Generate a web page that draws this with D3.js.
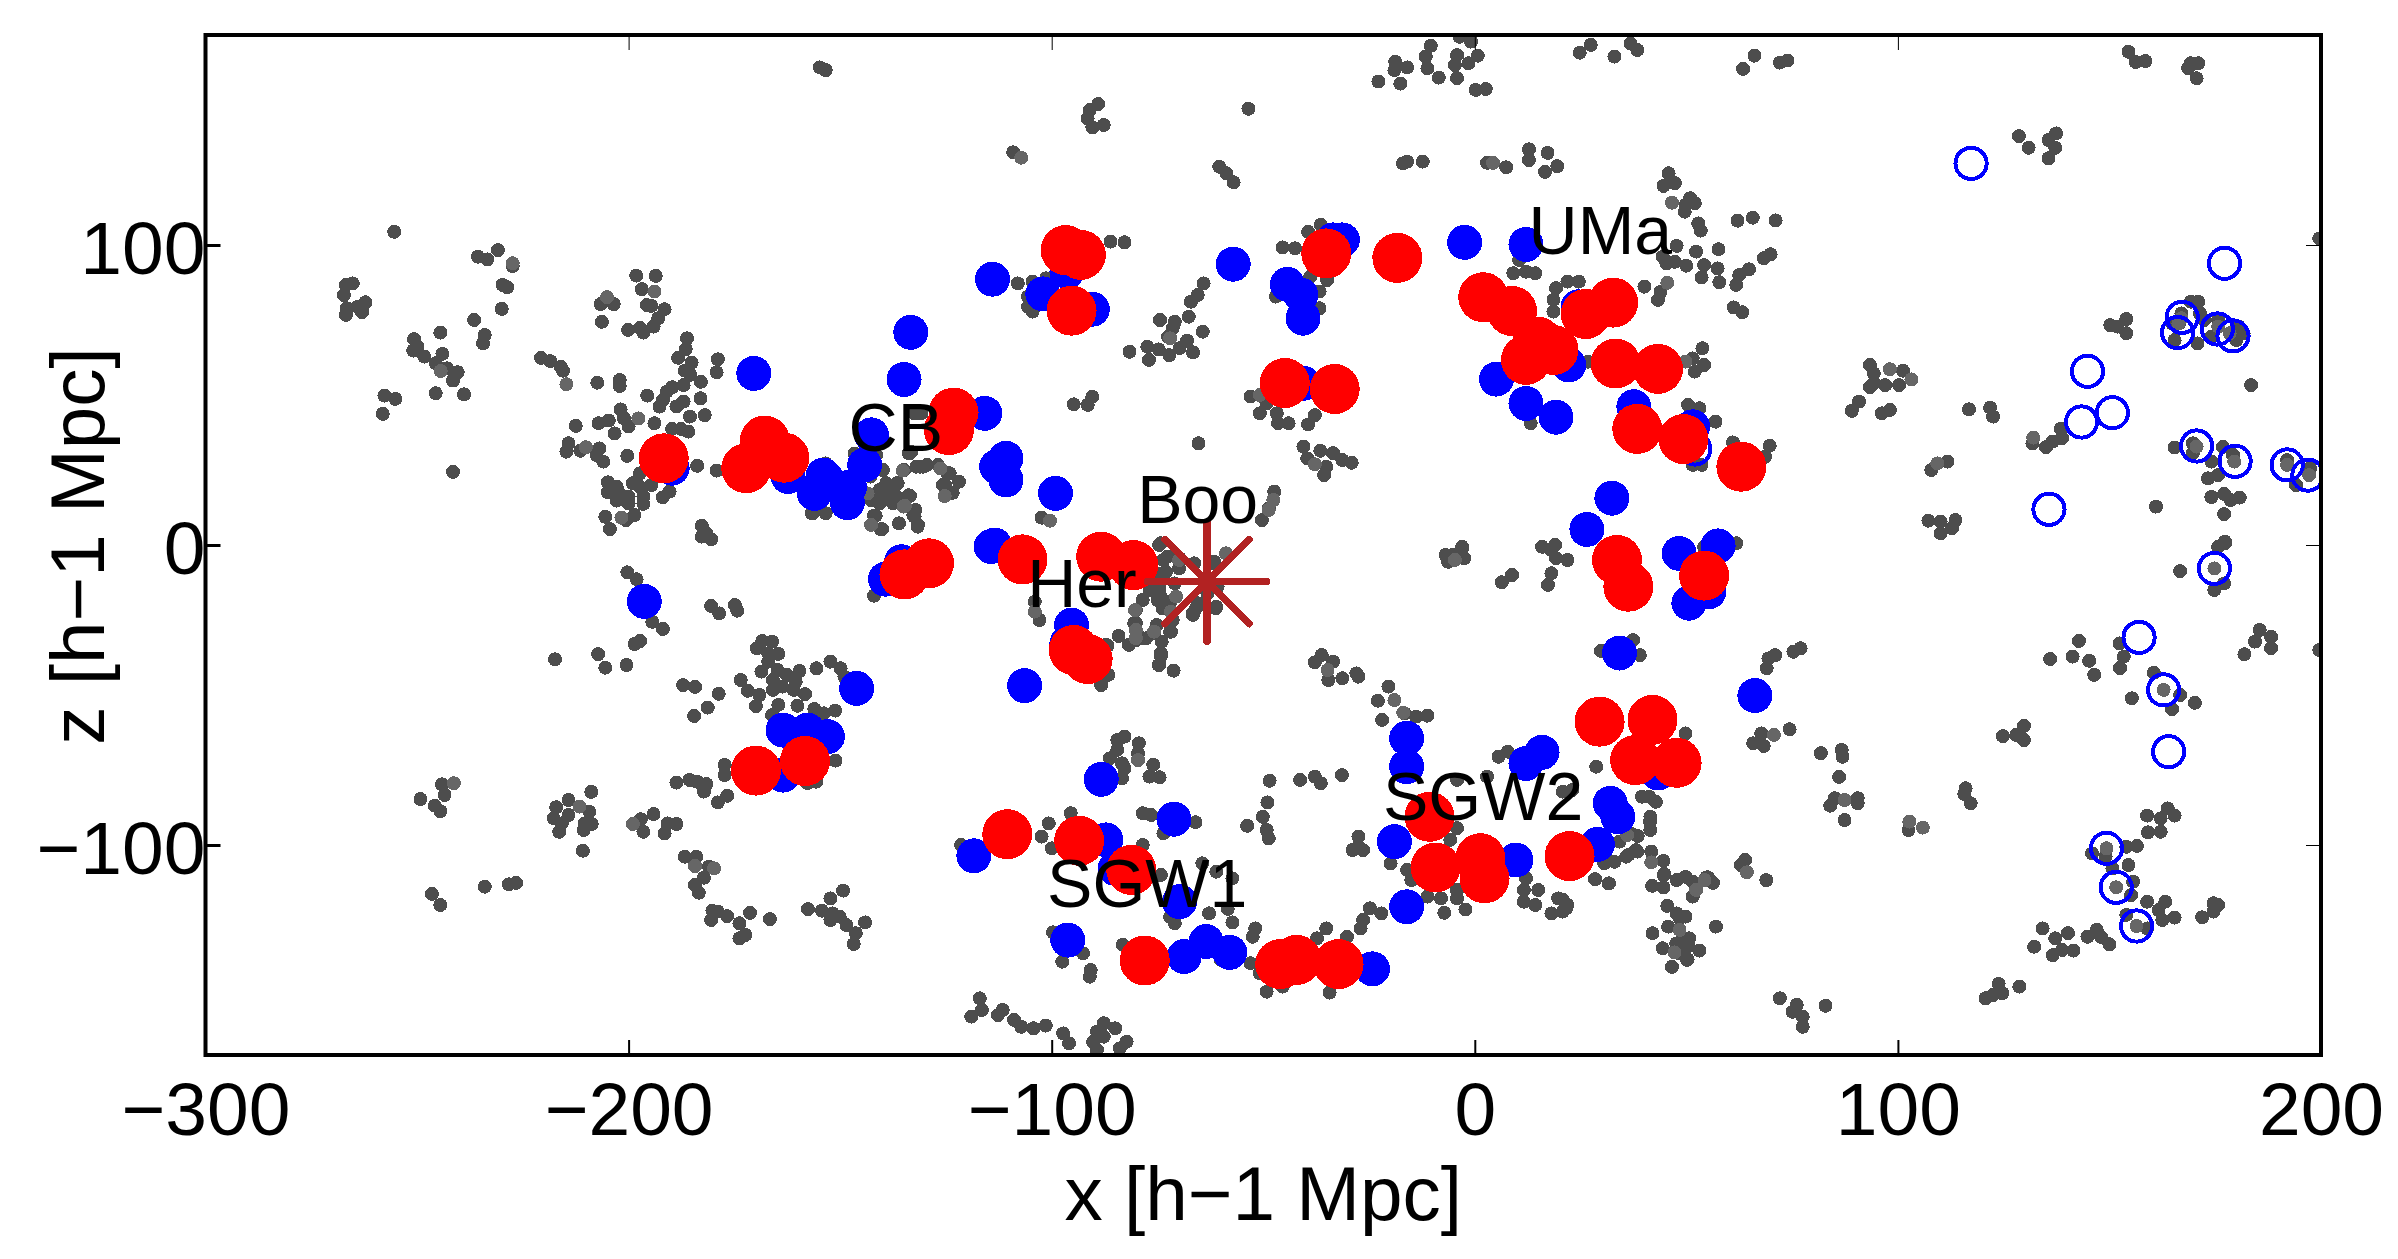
<!DOCTYPE html>
<html>
<head>
<meta charset="utf-8">
<script src="https://cdn.jsdelivr.net/npm/d3@7"></script>
<style>
  body { margin: 0; background: #fff; }
  text { font-family: "Liberation Sans", Arial, sans-serif; fill: #000; }
  circle, line.star { shape-rendering: crispEdges; }
</style>
</head>
<body>
<div id="chart"></div>
<script>
// values, as [x, z] in h-1 Mpc
var xTicks = [-300, -200, -100, 0, 100, 200];
var zTicks = [-100, 0, 100];

// background galaxies, dark dots
var grayDots = [
[-154.8,159.2],[-153.4,158.3],[-255.4,104.4],[-230.9,98.3],[-235.6,96.1],[-233.4,95.2],[-227.4,93],[-229.8,86.7],[-228.7,85.9],[-230,78.7],
[-265.2,87.2],[-266.8,86.7],[-267.3,83.3],[-262.2,80.9],[-264,79.4],[-266.6,78.9],[-263,77.6],[-266.8,76.7],[-236.5,75],[-244.5,70.8],
[-234,70],[-234.4,67.2],[-250.7,68.6],[-249.9,66.1],[-250.9,64.8],[-248.3,62.8],[-244,63.7],[-245.6,60.6],[-242.9,58.9],[-240.4,57.6],
[-241.5,54.8],[-257.7,49.8],[-255.1,48.7],[-258.1,43.7],[-245.6,50.6],[-238.9,50.2],[-241.5,24.4],[-220.7,62.4],[-218.5,61.3],[-216,59.4],
[-215.5,58.1],[-207.4,54.1],[-202.1,55],[-202.1,53],[-198.2,89.8],[-193.6,89.7],[-196.9,85.3],[-206.6,80.3],[-203.5,80.3],[-195.7,80],
[-194.6,79.7],[-191.5,78.6],[-206.3,74.4],[-193,75.6],[-200.1,71.7],[-197.3,72.4],[-196.5,70.8],[-194.1,72.8],[-186.2,68.9],[-186.5,65.3],
[-188.3,62.4],[-185.1,60.8],[-178.9,61.9],[-179.2,57.6],[-186.7,58.1],[-185.4,56.7],[-182.9,54.4],[-187,53.3],[-189.7,52.6],[-191,51.1],
[-195.6,49.8],[-183,48.9],[-187,47.8],[-191.9,48.3],[-192.7,46.1],[-188.7,46.2],[-185.5,42.8],[-182,43.3],[-201.9,45.2],[-201.1,42.2],
[-200,39.5],[-204.7,41.5],[-207.1,40.6],[-193.9,40.6],[-212.5,39.7],[-203.3,37.2],[-189.7,38.7],[-187.6,38.7],[-185.9,37.8],[-214.2,33.9],
[-214.7,31.1],[-211.4,31.4],[-206.9,32.2],[-207.6,30],[-206,27.8],[-200.3,29.7],[-183.8,26.4],[-179.2,24.8],[-204.9,20.9],[-202.8,19.4],
[-204.9,17.6],[-202.2,17.2],[-199,20.6],[-197.3,23.9],[-197.3,19.4],[-194.6,20],[-200,16.1],[-202.8,14.8],[-200,13.9],[-196.5,16.1],
[-196.5,13.7],[-190.3,17.8],[-191.9,15.9],[-205.5,9.4],[-198.6,10],[-200.6,8.3],[-204.4,5.3],[-182.7,6.4],[-181.6,3.9],[-182.7,2.8],
[-180.5,1.9],[-156.7,10.6],[-153.4,10.6],[-142,9.8],[-140.4,5.3],[-136.1,7.2],[-142.9,22.8],[-139.8,18.3],[-142,16.1],[-138.8,16.1],
[-136.6,20.6],[-136.6,16.1],[-133.5,16.4],[-146.3,29.4],[-133.5,30.6],[-132.4,43.9],[-131.2,26.1],[-132.2,11.7],[-153.4,27.2],
[-130.4,26.1],[-132,26.1],[-126.9,26.7],[-124.1,23.9],[-121.9,21.1],[-125.7,20],[-123.4,17.4],[-140.7,18.3],[-137.5,18.3],[-140.7,13.9],
[-137.5,13.9],[-142.7,15],[-139.1,20.6],[-136.4,20.6],[-132.4,9.4],[-131.6,6.7],[-141.6,9.8],[-140.1,5.3],[-156.4,10.6],[-133.2,31.1],[-130.8,43.9],
[-139.9,25],[-146.6,30.5],[-141.5,30],[-139,16],[-137,15.5],
[-0.9,167.8],[-3.6,169.4],[-10.4,166.4],[-11.6,162.8],[-18.8,161.1],[-19,158.3],[-16,159.2],[-11.2,158.9],[-8.5,155.8],[-22.8,154.5],
[-17.6,153.8],[-4.2,163.3],[-4.7,160],[0.7,163.1],[-1.5,160.6],[-4.2,155.6],[0.2,151.7],[2.6,152],[27.4,166.7],[24.8,164.1],[33,162.8],
[-89,147],[-91,145],[-91.5,142.2],[-90.4,139.2],[-87.7,140],[-53.5,145.4],[-109.1,130.9],[-17,127.2],[-16,127.8],[-12.3,127.8],[2.9,127.4],
[7.4,125.9],[12.8,131.9],[12.8,128.3],[17.2,130.7],[19.5,126.3],[16.6,124.4],[-60.4,126.1],[-58.7,123.9],[-57,120.9],[-86.1,101.1],
[-82.8,100.9],[-39.4,104.4],[-36.4,106.7],[-45.4,99.2],[-42.5,98.9],[10.5,95],[9.1,90.6],[14.3,90.6],[12.1,91.1],[21.9,87.8],[24.6,87.8],
[19.2,85.6],[18.6,81.7],[18.6,77.8],[-108,87.2],[-104.5,87.8],[-101.3,88.9],[-105.6,82.8],[-105.6,79.4],[-104.5,77.8],[-64.1,87.2],
[-65.5,83.3],[-67.1,81.1],[-74.4,75],[-70.9,74.4],[-67.6,76.1],[-71.4,72.2],[-64.3,71.1],[-72.5,69.4],[-68,68.1],[-69.8,65.6],[-77.4,66.1],
[-74.7,65.2],[-81.6,64.4],[-77,61.7],[-72.2,63.3],[-66.6,64.2],[-38.9,89.4],[-34.9,88.3],[-36.7,84.5],[-36.7,78.9],[-47,82.8],[-53,49.5],
[-50.3,49.5],[-50.8,43.9],[-46.8,43.9],[-46.5,40.6],[-44,40.6],[-49.2,47.2],[-37.8,43.3],[-39.4,40.2],[-94.8,46.9],[-91.5,46.7],[-90.4,49.4],
[-65.3,33.9],[-40.5,32.8],[-39.6,28.9],[-36.5,31.4],[-33.5,30.6],[-35.1,26.1],[-31.3,28.3],[-29.1,27.4],[-35.6,23.3],[-47.4,17.8],[-48.7,12.2],
[-50.3,8.3],[-131.1,44.4],[-131.1,26.1],[-129.5,26.7],[-134.9,25],[-124.6,23.9],[-121.9,21.1],[-125.2,20],[-124.1,17.2],[-133.8,16.6],
[-132.7,10],[-131.7,6.1],[-102.4,9.1],[-133.8,30.6],[13.2,40.6],[26.8,61.1],[-3,-0.6],[15.9,-0.6],[19,0],[-74.2,0.6],
[36.8,167.2],[38.4,165],[66.1,163.1],[63.4,158.7],[72.1,160.8],[73.9,161.5],[154.5,164.4],[156.2,161],[158.5,161.3],[168.6,158.9],[171,160.6],
[169.2,160.6],[170.6,155.6],[128.6,136.3],[137.4,137.2],[135.6,135],[130.9,132.4],[137.2,132.4],[135.6,128.9],[45.8,123.9],[44.6,119.7],
[47.3,120.6],[50.9,115.6],[52,113.9],[49.8,113.3],[49.6,111.1],[52.8,107.2],[53.4,104.8],[62.1,108.1],[65.7,109.1],[71.1,108.2],[47.7,99.7],
[52.3,97.8],[57.6,98.6],[44.4,96.1],[45.3,93.9],[47.3,94.4],[50,93.1],[54.2,93.3],[57.4,92.2],[53.6,89.2],[57.8,87.6],[68.3,95.6],[69.9,96.9],
[64.8,91.9],[62.5,90],[61.8,86.7],[40.1,86.1],[43.9,84.4],[43.3,81.7],[61.2,79.2],[63.2,77.6],[53.8,65.6],[51.5,62.2],[54.2,60],[52,57.8],
[50.4,46.7],[53.1,45.6],[56.9,41.1],[51.5,26.7],[53.6,26.7],[61,34.2],[69.7,33.1],[68.6,29.4],[93.4,60],[94.3,57.2],[101.2,58.1],[94.3,53.9],
[93.4,52.6],[97,53.3],[100.3,53.3],[90.8,47.8],[89.1,44.7],[98.1,45],[96.2,43.9],[116.8,45.2],[121.8,45.8],[122.5,42.8],[138.5,38.7],[138.8,35.6],
[136.6,34.5],[135,32.6],[131.8,33.9],[107.9,25],[111.7,27.8],[183.5,53.3],[150.2,73.3],[154,75.3],[154,70.6],[151.8,72.8],[171,81.1],[169.2,81.1],
[167,77.2],[171.4,77.2],[172.4,75],[164.8,73.9],[166.5,73.9],[165.4,68.3],[170.8,67.2],[174,69.4],[180.6,72.8],[181.7,70.6],[180,68.3],[175.7,75],
[199.6,102.2],[165.4,32.5],[169.7,33.9],[169.7,30.6],[176.8,32.7],[179.2,30],[174.1,27.8],[173.3,22.2],[175.7,23.3],[192,28.3],[197.4,25.6],
[194.1,20],[174.1,16],[177.1,17],[178.6,15],[180.8,15.8],[161,12.8],[177.1,10.3],[177.3,1.1],[175.7,-0.6],[107.2,8.1],[110.1,3.9],[110.1,7.8],
[113.6,8.3],[112.8,5.6],[54.2,-0.6],[61.8,0.6],
[-200.3,-9.1],[-198.1,-11.4],[-194.4,-25.6],[-191.9,-28],[-197.3,-32],[-198.6,-33],[-217.4,-38.1],[-207.2,-36.4],[-205.5,-40.9],[-200.5,-40],
[-180.5,-20.3],[-178.6,-22.8],[-174.9,-20],[-174.3,-21.9],[-142,-16.9],[-168.4,-32],[-166.1,-32.2],[-169.7,-34.4],[-167,-36.1],[-164.6,-36.3],
[-167,-38.9],[-168.6,-42.2],[-164.8,-41.7],[-165.9,-45],[-162.6,-43.3],[-159.6,-42],[-160.5,-45.6],[-165.9,-48.3],[-163.7,-47.2],[-161,-48.3],
[-158.3,-49.7],[-155.6,-41.1],[-152.3,-38.9],[-149.9,-41.1],[-149,-43.9],[-173.5,-45],[-171.8,-48.6],[-169.1,-50],[-169.9,-53.7],[-187.1,-46.7],
[-184.3,-47.3],[-178.7,-49.6],[-181.3,-54.2],[-184.5,-57],[-164.6,-53.3],[-160.1,-53.6],[-166.1,-56.7],[-156.1,-54.7],[-151.2,-55.2],[-153.9,-56.1],
[-151.1,-71.9],[-177.3,-73.3],[-177.3,-76.7],[-188.7,-79.2],[-185.6,-78.3],[-183.8,-78.9],[-181.6,-79.7],[-182.2,-82.2],[-176.7,-83.6],[-178.9,-85.8],
[-155.6,-78.9],[-157.7,-79.4],[-244.1,-79.8],[-243.5,-83.3],[-249.2,-84.7],[-245.8,-86.9],[-244.5,-88.7],[-208.8,-82.3],[-214.2,-85],[-217.1,-87.4],
[-217.7,-91.1],[-214.2,-90],[-215.8,-92.8],[-216.4,-95.6],[-209.3,-88.9],[-210.4,-92.8],[-208.7,-93],[-210.6,-95],[-194.1,-89.7],[-197.1,-91.4],
[-196.5,-95.6],[-190.8,-92.8],[-188.7,-93],[-191.5,-96.1],[-210.8,-101.9],[-186.7,-103.9],[-184,-103.9],[-181,-107.2],[-182.2,-110.9],[-184.3,-113.3],
[-183.4,-115.9],[-180.2,-121.9],[-178.9,-122.2],[-180.5,-125],[-176.7,-123.7],[-171.3,-122.6],[-173.8,-126.1],[-166.6,-124.7],[-172.4,-130],[-173.8,-131.1],
[-149.3,-115.2],[-152.3,-117.8],[-157.6,-121.4],[-154.3,-121.9],[-151.8,-122.8],[-150.1,-123.9],[-152.3,-125],[-148.5,-126.7],[-144.1,-125.8],
[-146.3,-129.4],[-146.8,-133],[-246.5,-116.3],[-244.5,-120],[-234,-113.9],[-228.3,-113.1],[-226.6,-112.6],
[-5.3,-3.3],[-3.1,-1.7],[-6.9,-3.3],[-2.5,-4.4],[-6.3,-5.6],[18.1,-1.7],[19.2,-4.4],[21.9,-5],[18.1,-9.4],[17.3,-13.3],[8.8,-10],[6.4,-12.4],[29.8,-35.3],
[-75.2,-9.4],[-73.6,-5],[-69.8,-4.4],[-62.2,-6.1],[-76.9,-15],[-74.2,-17.2],[-80.1,-21.7],[-72,-18.9],[-66.6,-23.3],[-61.1,-20.6],[-65.5,-19.4],
[-70.9,-12.8],[-80.1,-26.1],[-80.1,-31.7],[-75.8,-29.4],[-72,-28.9],[-78.5,-31.1],[-84.2,-30.3],[-81.8,-33.3],[-74.2,-36.1],[-74.7,-40],[-71.2,-41.9],
[-74.6,0],[-72.6,-3.9],[-66.3,-6.1],[-61.6,-5.6],[-73,-8.9],[-69.9,-7.8],[-76.6,-14.4],[-74.6,-14.4],[-78.5,-18.3],[-75,-18.3],[-73.8,-21.1],[-71.4,-25],
[-66.7,-22.8],[-65.9,-21.1],[-61.2,-21.1],[-80.5,-26.1],[-75.2,-26.7],[-71.8,-28.9],[-77.7,-31.1],[-74,-32.2],[-74.2,-37.2],[-74.6,-40],[-86.8,-33.6],
[-63.2,-16.1],[-60.8,-13.9],
[-102.9,-25],[-104,-18.9],[-87.2,-33.3],[-88.3,-46.7],[-86.6,-43.3],[-36.2,-36.7],[-37.8,-39.1],[-33.5,-38.9],[-34.6,-45],[-31.3,-44.4],[-28,-42.8],
[-27.5,-43.9],[-20.4,-47.2],[-22.9,-51.9],[-21.9,-58.3],[-16.6,-56.1],[-13.9,-57.2],[-11.2,-56.9],[-82.8,-63.9],[-84.5,-65],[-79.4,-66.1],[-84.5,-68.3],
[-79.6,-69.4],[-86.3,-71.1],[-83.4,-72.8],[-82.8,-74.4],[-76,-73.3],[-76.9,-77.2],[-74.5,-77.4],[-83.4,-77.8],[-48.5,-78.6],[-41.3,-78.3],[-37.8,-77.2],
[-36.4,-79.4],[-31.4,-76.7],[-49,-85.8],[-50.1,-90.6],[-53.8,-93.6],[-49.2,-95],[-48.7,-97.8],[-78.5,-89.4],[-76.5,-90],[-66,-92.4],[-73.6,-96.1],
[-100.7,-92.8],[-95.5,-89.4],[-102.4,-97.2],[-100,-101.1],[-121.4,-100],[-78.5,-100],[-27.5,-97.2],[-27.5,-100.6],[-28.9,-101.7],[-26.4,-101.7],
[-64.4,-106.1],[-61.1,-108.9],[-57.3,-111.1],[-74.2,-110],[5.6,-70.6],[7.8,-68.9],[2.9,-77.2],[-4.2,-78.3],[23,-81.7],[20.8,-82.2],[28.7,-73.9],
[-4.2,-94.4],[-5.8,-98.3],[-19.9,-106.1],[-16,-108.3],[-15,-111.7],[-4.2,-115],[-4.2,-117.8],[-8,-117.8],[-11.2,-117.2],[-7.2,-122.6],[-2.2,-121.5],
[12.1,-111.1],[11.6,-115],[15,-115],[11.6,-118.9],[14.3,-120],[19.7,-117.8],[21.9,-120],[18.1,-122.8],[20.8,-122.2],[28.5,-111.4],[31.6,-112.8],
[-24.8,-121.1],[-22.1,-122.8],[-26.4,-125],[-27,-127.8],[-35.1,-127.8],[-37.3,-131.1],[-30.2,-130.6],[-51.9,-127.8],[-52.5,-130.6],[-62.8,-122.8],
[-58.4,-121.3],[-57.3,-125.8],[-70.9,-126.1],[-72,-123.9],[-83.2,-133.3],[-99.7,-129.1],[-92.6,-136.1],[-97.5,-138.9],[-90.8,-141.7],[-91,-143.9],
[-53,-139.4],[-50.8,-142.8],[-49.2,-148.9],[-45.4,-147.2],[-34.3,-149.2],[-60,-138.3],[-117,-151.1],[-116.5,-155],[-119,-157.2],[-112.7,-156.7],
[-111.6,-155],[-108.9,-158.3],[-107.2,-160.6],[-104.3,-161.1],[-101.4,-160.2],[-97.3,-162.8],[-95.9,-166.1],[-87.7,-159.4],[-85,-161.1],[-89.3,-162.2],
[-87.7,-163.9],[-90.2,-165.6],[-82.3,-165.6],[-83.9,-167.8],[-89.3,-168.3],
[177.3,0.6],[166.7,-8.7],[174.8,-15],[177.1,-12.8],[39,-36.7],[37.4,-31.7],[71,-36.7],[69.4,-37.8],[69,-41.1],[75.3,-35.6],[77,-34.4],[74.4,-61.4],
[67.7,-62.8],[65.8,-66.1],[68.3,-67],[49.8,-62.8],[81.8,-69.4],[86.7,-68.3],[86.9,-70.6],[86.1,-77.3],[84,-86.9],[85.1,-84.4],[90.5,-84.4],[90.5,-86.1],
[87.4,-91.7],[102.5,-95],[116,-81.1],[115.7,-83],[117.2,-86.1],[124.8,-63.7],[129.8,-60.3],[129.8,-65],[128,-63.3],[142.8,-32],[136,-38],[141.3,-37.2],
[145.2,-38.6],[146.4,-43.3],[152.4,-32.8],[153.4,-37.2],[152.5,-41],[160.5,-42.6],[155.3,-51.1],[166.7,-50],[164.8,-54.7],[170.2,-52.6],[185.5,-28.3],
[184.4,-32.2],[188.2,-30.6],[188.2,-34.4],[181.9,-36.4],[199.6,-35],[163.8,-87.8],[158.9,-90.2],[165.4,-90.2],[162.1,-91.1],[159.1,-95.8],[162.1,-95.6],
[156.5,-100.3],[154,-100.6],[145.9,-102.8],[149.1,-103.9],[154.5,-106.7],[150.7,-107.8],[155.6,-112.2],[155.1,-116.7],[158.9,-118.9],[163.2,-118.9],
[161.6,-121.7],[165.4,-124.2],[162.5,-125],[154,-123.3],[158.9,-127.8],[174.6,-119.4],[175.7,-120],[171.9,-124.1],[174.6,-122.2],[134.2,-127.8],[147,-128.3],
[148,-130.6],[144.8,-130.6],[140.2,-129.4],[137.2,-131.1],[136.6,-136.7],[141.5,-135.2],[138.8,-135],[132.2,-133.9],[150,-133.1],[123.8,-146.3],[124.7,-149.4],
[122.5,-150],[120.7,-151.1],[128.7,-147.2],[72.1,-151.1],[76.1,-153.3],[75.1,-155.6],[77.5,-157.2],[77.5,-160.6],[82.9,-153.6],[36.8,-96.1],[36.3,-103.3],
[38.4,-102.2],[41.7,-102.2],[44.6,-105.3],[44.6,-110],[41.9,-113.6],[44.6,-114.1],[47.7,-111.7],[49.8,-110.6],[51.5,-117.2],[56.3,-112.6],[54.7,-110.8],
[41.2,-83.9],[42.8,-85.6],[41.5,-90.6],[41.5,-95],[39.5,-83.9],[63.9,-105],[62.9,-106.7],[68.9,-111.7],[45.5,-120.3],[47.7,-122.8],[49.8,-123.9],[45.7,-127.2],
[42,-129.4],[57,-127.2],[49.3,-131.1],[44.4,-134.4],[50.4,-133.3],[53.1,-135.2],[50.2,-138.3],[46.6,-140.6],
[41.4,-92.2],[38.5,-97],[34.2,-98.9],[38.1,-101.7],[35.8,-103.9],[33,-105.6],[30.6,-106.1],[44.8,-109.7],[51.5,-112.2],[55.1,-110.8],[28.4,-111.4],[31.7,-112.8],
[21.6,-121.1],[20.8,-118.3],[48.4,-124.4],[50.7,-131.1],[50.3,-133.9],[47.6,-132.8],[48.4,-136.1],[50.3,-138.1]
];

// the slightly paler dots that sit on top of the dark ones
var paleDots = [
[-227.4,93.9],[-193.9,84.5],[-205.1,82.6],[-244.4,58],[-214.7,53.6],[-197.7,42.2],[-210.1,32.6],[-201.7,9.1],[-135.2,24.8],[-135,12.8],[-142.7,6.7],[-143.5,17.2],
[-107.2,129.1],[4.3,127.4],[-72,68.9],[-37.8,26.9],[-126.3,25.5],[-125.3,16.3],[-134.7,13],[-100.4,8.1],[-47.6,15],[-48.7,11.7],[-50.8,50],
[46.6,114.1],[45.5,87.4],[49.8,61.1],[98.1,58.6],[103.2,55.2],[132,35.8],[109.3,27.2],[167,75.6],[166.3,73.9],[175.7,72.8],[178.4,70.6],[170.6,32.8],[179.5,27.8],[192,26.7],[197.2,23.3],
[-241.3,-79.4],[-211.6,-87.2],[-199,-93],[-184.3,-107],[-179.8,-107.8],
[-70.6,-17.2],[-80.1,-28.3],[-80.1,-31.1],[-75.8,-28.9],[-71.8,-22.2],[-80.3,-21.7],[-69.9,-5],[-58.8,-2.8],[-34.8,-41.7],[-19,-51.7],[-16.9,-55.9],[-79.6,-71.7],[-4.7,-5],[-104,-22.2],
[70.7,-63.3],[87.4,-85],[102.7,-92.2],[105.9,-94.2],[36,-96.7],[41.7,-105.8],[54.3,-111.7],[52.3,-115],[64.3,-109.1],[48.4,-128.3],[47.2,-135.8],
[174.8,-7.8],[162.8,-48.3],[149.3,-101.1],[151.6,-114.1],[156.4,-127]
];

var openCircles = [
[117.3,127.2],[167.2,75.9],[166.1,70.8],[175.5,72],[179.2,69.7],[177.2,93.9],[144.8,57.9],[150.7,44.1],[143.4,41],[170.6,33],[179.7,27.9],[192,26.7],[196.9,23.3],[135.7,11.9],[52,32],
[174.8,-7.8],[157,-30.8],[162.8,-48.3],[164,-68.9],[149.3,-101.1],[151.6,-114.1],[156.4,-127]
];

var blueCircles = [
[-170.4,57.2],[-133.3,70.9],[-134.9,55.2],[-142.6,36.7],[-144.2,26.7],[-162.3,22.8],[-154,23.3],[-156.1,17.2],[-148.3,14.1],[-189.7,25.6],[-153,21.7],[-147.8,19.3],
[-114,88.6],[-57.1,93.6],[-102.1,83.7],[-96.4,91.1],[-90.4,78.6],[-33.5,101.7],[-31.3,101.7],[-44.3,86.9],[-41.1,83.3],[-40.6,75.6],[-2.4,100.9],[12.1,100.2],
[-40.5,53.9],[5.1,55.3],[12.1,47.2],[19.2,42.6],[22.2,60],[24.4,79.4],[-115.8,43.9],[-110.8,28.9],[-113,26.1],[-110.8,21.7],[-99.1,17.2],[-113.5,0],[32.4,15.6],[26.5,5.2],
[37.6,46.1],[51.5,39.4],[48.3,-2.8],[57.5,-0.3],[55.3,-15.6],[50.6,-19.4],[34.2,-36],[66.2,-50.2],[43.3,-76],[32,-86.1],[33.8,-90.6],[29,-99.8],
[-95.3,-26.7],[-96.4,-32.8],[-106.4,-46.9],[-114.3,-0.5],[-135.5,-5.6],[-139.3,-11.4],[-16.1,-64.4],[-16.1,-73.9],[15.9,-69.1],[12.1,-72.8],[-19,-98.9],[9.7,-105],[-16.1,-120.6],
[-24.2,-141.3],[-57.9,-135.8],[-63.5,-132.2],[-68.7,-137.2],[-69.8,-118.9],[-71.1,-91.4],[-88.3,-78.1],[-87.2,-98.3],[-85,-107.8],[-96.2,-131.7],[-118.4,-103.6],
[-196.3,-18.8],[-146.1,-47.8],[-163.5,-61.7],[-157.7,-61.7],[-153,-63.9],[-163.5,-76.7]
];

var redCircles = [
[-191.7,28.9],[-167.8,34.8],[-172.2,25.6],[-163.2,29.1],[-123.2,44.1],[-124.3,38.3],[-96.7,98.3],[-93.1,96.7],[-95.3,78.1],[-35.1,97.2],[-18.3,95.7],[2,82.6],[8.8,78],[26.2,77],[32.7,80.8],
[14.8,67.8],[18.6,65],[12.1,61.7],[33.3,60.5],[-44.9,54],[-33.1,52],[43.3,58.7],[38.4,38.7],[49.3,35.3],[63,26.1],
[-134.8,-9.8],[-129,-6.1],[-106.9,-4.8],[-88.3,-3.9],[-80.7,-6.7],[-94.8,-35],[-91.5,-38],[29.5,-58.9],[42,-58.3],[37.9,-71.7],[47.7,-72.6],[33.6,-5],[36.3,-13.9],[54.2,-10.2],
[-110.5,-96.4],[-93.5,-98.6],[-81.2,-108.3],[-78,-138.5],[-46,-139.7],[-42.1,-138.3],[-32.2,-139.7],[-10.7,-90.6],[-9.3,-107.5],[1.3,-104.4],[2.3,-111.1],[22.4,-103.7],[-169.9,-75.2],[-158.3,-72]
];

var starPoint = [[-63.3,-12.2]];
var starAngles = [0, 45, 90, 135, 180, 225, 270, 315];

var labelNames = ["UMa", "CB", "Boo", "Her", "SGW2", "SGW1"];
var labelX = [12.7, -148, -79.8, -105.8, -21.7, -101.1];
var labelZ = [97, 31.3, 7.3, -20.7, -91.7, -120.7];

// dimensions
var margin = {top: 35, right: 77, bottom: 204, left: 205.5},
    width = 2398 - margin.left - margin.right,
    height = 1259 - margin.top - margin.bottom;

var svg = d3.select("#chart")
    .append("svg")
    .attr("width", 2398)
    .attr("height", 1259)
    .append("g")
    .attr("transform", "translate(" + margin.left + "," + margin.top + ")");

var x = d3.scaleLinear().domain([-300, 200]).range([0, width]);
var z = d3.scaleLinear().domain([-170, 170]).range([height, 0]);

svg.append("defs").append("clipPath").attr("id", "plot-clip")
    .append("rect").attr("width", width).attr("height", height);

var plot = svg.append("g").attr("clip-path", "url(#plot-clip)");

function drawDots(data, r, fill, stroke, strokeWidth) {
    plot.append("g").selectAll("circle")
        .data(data)
        .enter()
        .append("circle")
        .attr("cx", function (d) { return x(d[0]); })
        .attr("cy", function (d) { return z(d[1]); })
        .attr("r", r)
        .attr("fill", fill)
        .attr("stroke", stroke)
        .attr("stroke-width", strokeWidth);
}

drawDots(grayDots, 7, "#4d4d4d", "none", 0);
drawDots(paleDots, 7, "#666666", "none", 0);
drawDots(openCircles, 15.6, "none", "#0000ff", 4);
drawDots(blueCircles, 17.5, "#0000ff", "none", 0);
drawDots(redCircles, 25, "#ff0000", "none", 0);

// the big asterisk
var starLength = 59.5;
plot.append("g").selectAll("line")
    .data(starAngles)
    .enter()
    .append("line")
    .attr("class", "star")
    .attr("x1", x(starPoint[0][0]))
    .attr("y1", z(starPoint[0][1]))
    .attr("x2", function (d) { return x(starPoint[0][0]) + starLength * Math.cos(d * Math.PI / 180); })
    .attr("y2", function (d) { return z(starPoint[0][1]) + starLength * Math.sin(d * Math.PI / 180); })
    .attr("stroke", "#b22222")
    .attr("stroke-width", 7.5)
    .attr("stroke-linecap", "round");

// labels of the structures
svg.append("g").selectAll("text")
    .data(labelNames)
    .enter()
    .append("text")
    .attr("x", function (d, i) { return x(labelX[i]); })
    .attr("y", function (d, i) { return z(labelZ[i]); })
    .attr("font-size", 68)
    .text(function (d) { return d; });

// axes
var fmt = function (d) { return d3.format("")(d).replace("-", "\u2212"); };

var bottom = svg.append("g").attr("transform", "translate(0," + height + ")")
    .call(d3.axisBottom(x).tickValues(xTicks).tickSize(-15).tickPadding(27).tickFormat(fmt));
var left = svg.append("g")
    .call(d3.axisLeft(z).tickValues(zTicks).tickSize(-15).tickPadding(0).tickFormat(fmt));
var top_ = svg.append("g")
    .call(d3.axisTop(x).tickValues(xTicks).tickSize(-15).tickFormat(""));
var right = svg.append("g").attr("transform", "translate(" + width + ",0)")
    .call(d3.axisRight(z).tickValues(zTicks).tickSize(-15).tickFormat(""));

[bottom, left, top_, right].forEach(function (a) {
    a.select(".domain").remove();
    a.selectAll("text").attr("font-size", 75).attr("font-family", "Liberation Sans").attr("fill", "#000");
});
left.selectAll("text").attr("dy", "0.38em");
bottom.selectAll("line").attr("stroke", "#000").attr("stroke-width", 2);
left.selectAll("line").attr("stroke", "#000").attr("stroke-width", 3);
top_.selectAll("line").attr("stroke", "#000").attr("stroke-width", 1);
right.selectAll("line").attr("stroke", "#000").attr("stroke-width", 1);

svg.append("rect")
    .attr("width", width)
    .attr("height", height)
    .attr("fill", "none")
    .attr("stroke", "#000")
    .attr("stroke-width", 4);

svg.append("text")
    .attr("x", width / 2)
    .attr("y", height + 165)
    .attr("text-anchor", "middle")
    .attr("font-size", 76.5)
    .text("x [h\u22121 Mpc]");

svg.append("text")
    .attr("transform", "translate(-101.5," + (height / 2 + 1) + ") rotate(-90)")
    .attr("text-anchor", "middle")
    .attr("font-size", 76.5)
    .text("z [h\u22121 Mpc]");
</script>
</body>
</html>
